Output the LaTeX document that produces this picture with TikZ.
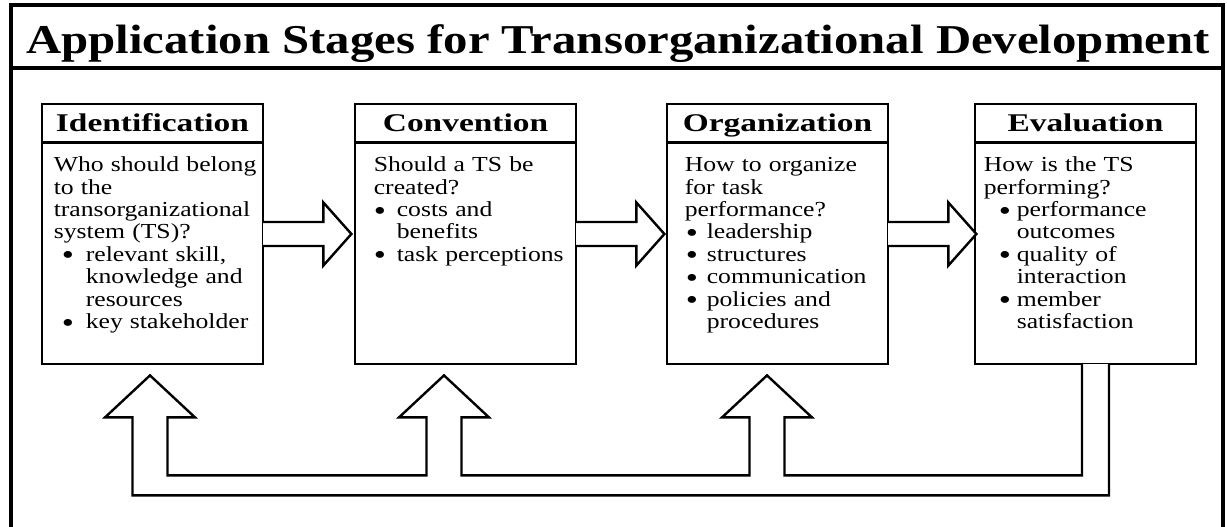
\documentclass[tikz,border=0pt]{standalone}
\usepackage{fontspec}
\setmainfont{Liberation Serif}
\newfontfamily\titlefont[FakeStretch=1.19]{Liberation Serif}
\newfontfamily\headfont[FakeStretch=1.31]{Liberation Serif}
\newfontfamily\bodyfont[FakeStretch=1.2]{Liberation Serif}
\usetikzlibrary{calc}

\newlength{\bulx}
\newlength{\txtx}
\newcommand{\bitem}[1]{\hspace*{\bulx}\makebox[\dimexpr\txtx-\bulx\relax][l]{\raisebox{-3.5pt}{\scalebox{1.35}{\textbullet}}}#1}
\newcommand{\bmore}[1]{\hspace*{\txtx}#1}

\tikzset{
  frame/.style={line width=3.4pt},
  stage/.style={draw, line width=2.8pt, fill=white, inner sep=0pt, minimum width=221pt, minimum height=260pt},
  headtext/.style={font=\headfont\bfseries\fontsize{25.5pt}{29pt}\selectfont, inner sep=0pt},
  bodytext/.style 2 args={font=\bodyfont\fontsize{21.4pt}{22.4pt}\selectfont\setlength{\bulx}{#1}\setlength{\txtx}{#2}, text width=210pt, align=left, inner sep=0pt, anchor=north west},
  blockarrow/.style={draw, fill=white, line width=2.4pt, line join=miter},
}

\begin{document}
\begin{tikzpicture}[x=1pt, y=1pt]
  \useasboundingbox (0,0) rectangle (1227,-527);
  % frame and title bar
  \draw[frame] (11,-527) -- (11,-5) -- (1223,-5) -- (1223,-527);
  \draw[frame] (11,-68) -- (1223,-68);
  \node[font=\titlefont\bfseries\fontsize{41pt}{46pt}\selectfont, inner sep=0pt, anchor=base] (title) at (618,-54) {Application Stages for Transorganizational Development};

  % the four stages
  \node[stage] (ident) at (152.5,-234) {};
  \node[stage] (conv) at (465.5,-234) {};
  \node[stage] (org) at (777.5,-234) {};
  \node[stage] (eval) at (1085.5,-234) {};
  \foreach \s/\t in {ident/Identification, conv/Convention, org/Organization, eval/Evaluation} {
    \draw[line width=2.8pt] ([yshift=-40pt]\s.north west) -- ([yshift=-40pt]\s.north east);
    \node[headtext, anchor=base] (\s-head) at ([yshift=-29pt]\s.north) {\t};
  }

  \node[bodytext={8pt}{32pt}] (ident-body) at ([xshift=13pt, yshift=-53.3pt]ident.north west) {\strut Who should belong\\ to the\\ transorganizational\\ system (TS)?\\ \bitem{relevant skill,}\\ \bmore{knowledge and}\\ \bmore{resources}\\ \bitem{key stakeholder}};
  \node[bodytext={0pt}{23pt}] (conv-body) at ([xshift=20pt, yshift=-53.3pt]conv.north west) {\strut Should a TS be\\ created?\\ \bitem{costs and}\\ \bmore{benefits}\\ \bitem{task perceptions}};
  \node[bodytext={1pt}{22pt}] (org-body) at ([xshift=19pt, yshift=-53.3pt]org.north west) {\strut How to organize\\ for task\\ performance?\\ \bitem{leadership}\\ \bitem{structures}\\ \bitem{communication}\\ \bitem{policies and}\\ \bmore{procedures}};
  \node[bodytext={15pt}{33pt}] (eval-body) at ([xshift=10pt, yshift=-53.3pt]eval.north west) {\strut How is the TS\\ performing?\\ \bitem{performance}\\ \bmore{outcomes}\\ \bitem{quality of}\\ \bmore{interaction}\\ \bitem{member}\\ \bmore{satisfaction}};

  % forward arrows
  \foreach \s in {ident, conv, org} {
    \draw[blockarrow] ([xshift=-1.4pt, yshift=12pt]\s.east) -- ++(60.4,0) -- ++(0,19.5) -- ++(28,-31.5) -- ++(-28,-31.5) -- ++(0,19.5) -- ++(-60.4,0);
  }

  % feedback from evaluation
  \coordinate (tip1) at ([xshift=-2.5pt, yshift=-10pt]ident.south);
  \coordinate (tip2) at ([xshift=-21.5pt, yshift=-10pt]conv.south);
  \coordinate (tip3) at ([xshift=-10.5pt, yshift=-10pt]org.south);
  \draw[blockarrow] ([xshift=-3.5pt, yshift=1.4pt]eval.south) |- ($(tip3)+(17.5,-100)$) -- ++(0,58) -- ++(27.5,0) -- (tip3) -- ++(-45,-42) -- ++(27.5,0)
    |- ($(tip2)+(17.5,-100)$) -- ++(0,58) -- ++(27.5,0) -- (tip2) -- ++(-45,-42) -- ++(27.5,0)
    |- ($(tip1)+(17.5,-100)$) -- ++(0,58) -- ++(27.5,0) -- (tip1) -- ++(-45,-42) -- ++(27.5,0)
    |- ($(eval.south)+(23.5,-130)$) -- ([xshift=23.5pt, yshift=1.4pt]eval.south);
\end{tikzpicture}
\end{document}
